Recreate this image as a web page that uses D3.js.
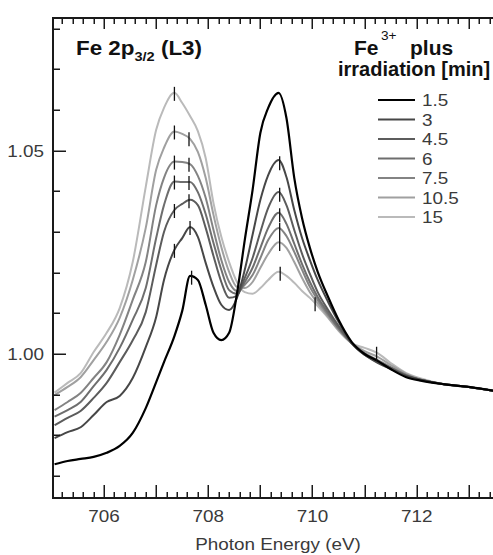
<!DOCTYPE html>
<html>
<head>
<meta charset="utf-8">
<script src="https://cdn.jsdelivr.net/npm/d3@7"></script>
<style>
  html, body { margin: 0; padding: 0; background: #fff; }
  svg { display: block; font-family: "Liberation Sans", Arial, sans-serif; }
</style>
</head>
<body>
<svg id="chart" width="493" height="555"></svg>
<script>
// ---------------- data ----------------
const energy = [705.05,705.3,705.55,705.8,706.05,706.3,706.55,706.8,707.0,707.15,
                707.35,707.5,707.65,707.8,707.95,708.1,708.25,708.4,708.55,708.7,
                708.85,709.0,709.15,709.35,709.5,709.65,709.8,709.95,710.1,710.3,
                710.5,710.75,711.0,711.25,711.5,711.8,712.1,712.5,713.0,713.5];

const seriesLabels = ["1.5", "3", "4.5", "6", "7.5", "10.5", "15"];

const s1_5 = [0.9729,0.9737,0.9742,0.9747,0.9757,0.9774,0.9806,0.9867,0.9931,0.9980,
              1.0044,1.0106,1.0192,1.0182,1.0121,1.0052,1.0034,1.0052,1.0148,1.0280,
              1.0403,1.0544,1.0605,1.0642,1.0580,1.0433,1.0334,1.0261,1.0202,1.0140,
              1.0084,1.0030,1.0000,0.9983,0.9963,0.9943,0.9934,0.9926,0.9919,0.9909];
const s3   = [0.9793,0.9808,0.9820,0.9850,0.9882,0.9897,0.9941,1.0017,1.0091,1.0182,
              1.0256,1.0285,1.0312,1.0288,1.0224,1.0165,1.0121,1.0108,1.0138,1.0207,
              1.0293,1.0379,1.0440,1.0477,1.0435,1.0354,1.0285,1.0231,1.0182,1.0128,
              1.0079,1.0027,0.9998,0.9978,0.9963,0.9946,0.9936,0.9926,0.9919,0.9909];
const s4_5 = [0.9825,0.9843,0.9860,0.9892,0.9929,0.9980,1.0034,1.0103,1.0219,1.0300,
              1.0354,1.0369,1.0379,1.0366,1.0310,1.0241,1.0177,1.0138,1.0143,1.0187,
              1.0236,1.0300,1.0359,1.0398,1.0366,1.0305,1.0246,1.0197,1.0152,1.0108,
              1.0069,1.0027,0.9998,0.9980,0.9966,0.9946,0.9936,0.9926,0.9919,0.9909];
const s6   = [0.9846,0.9862,0.9882,0.9921,0.9961,1.0015,1.0084,1.0162,1.0285,1.0366,
              1.0424,1.0423,1.0423,1.0398,1.0344,1.0273,1.0207,1.0157,1.0148,1.0177,
              1.0212,1.0261,1.0310,1.0347,1.0320,1.0271,1.0221,1.0177,1.0140,1.0101,
              1.0064,1.0027,1.0000,0.9983,0.9966,0.9948,0.9936,0.9926,0.9919,0.9909];
const s7_5 = [0.9862,0.9882,0.9904,0.9941,0.9980,1.0047,1.0133,1.0226,1.0366,1.0433,
              1.0473,1.0472,1.0467,1.0438,1.0384,1.0305,1.0231,1.0177,1.0155,1.0170,
              1.0194,1.0236,1.0280,1.0310,1.0290,1.0251,1.0207,1.0165,1.0133,1.0096,
              1.0062,1.0027,1.0002,0.9985,0.9968,0.9948,0.9936,0.9926,0.9919,0.9909];
const s10_5= [0.9899,0.9919,0.9943,0.9985,1.0030,1.0089,1.0182,1.0310,1.0453,1.0507,
              1.0547,1.0541,1.0529,1.0497,1.0433,1.0342,1.0263,1.0202,1.0165,1.0162,
              1.0177,1.0212,1.0246,1.0275,1.0261,1.0226,1.0187,1.0152,1.0125,1.0091,
              1.0059,1.0027,1.0007,0.9993,0.9973,0.9951,0.9936,0.9926,0.9919,0.9909];
const s15  = [0.9905,0.9929,0.9953,1.0005,1.0052,1.0113,1.0226,1.0411,1.0551,1.0605,
              1.0642,1.0617,1.0585,1.0548,1.0482,1.0371,1.0288,1.0226,1.0177,1.0152,
              1.0148,1.0162,1.0182,1.0202,1.0192,1.0175,1.0155,1.0138,1.0118,1.0089,
              1.0057,1.0027,1.0015,1.0002,0.9978,0.9953,0.9939,0.9926,0.9919,0.9909];

const seriesValues = [s1_5, s3, s4_5, s6, s7_5, s10_5, s15];

// peak markers: [series label, energy]
const markSeries = ["15","10.5","7.5","6","4.5","3",
                    "10.5","7.5","6","4.5","3","1.5",
                    "3","4.5","6","7.5","10.5","15",
                    "15","15"];
const markEnergy = [707.35,707.35,707.35,707.35,707.35,707.35,
                    707.63,707.63,707.63,707.63,707.65,707.68,
                    709.37,709.37,709.37,709.37,709.37,709.38,
                    710.05,711.23];

const xMinorTicks = [705.2,705.4,705.6,705.8,706.2,706.4,706.6,706.8,707.2,707.4,707.6,707.8,
                     708.2,708.4,708.6,708.8,709.2,709.4,709.6,709.8,710.2,710.4,710.6,710.8,
                     711.2,711.4,711.6,711.8,712.2,712.4,712.6,712.8,713.2,713.4];
const xMajorTicks = [706,707,708,709,710,711,712,713];
const xLabelTicks = [706,708,710,712];
const yMinorTicks = [0.97,0.98,0.99,1.01,1.02,1.03,1.04,1.06,1.07,1.08];
const yLabelTicks = [1.00,1.05];

// ---------------- layout ----------------
const svg = d3.select("#chart");
const L = 53, R = 493, T = 18, B = 498;
const xs = d3.scaleLinear().domain([705.02, 713.464]).range([L, R]);
const ys = d3.scaleLinear().domain([0.9646, 1.0826]).range([B, T]);

const colors = ["#000000","#474747","#5c5c5c","#6e6e6e","#838383","#a0a0a0","#bababa"];
const textCol = "#3a3a3a";

function label(txt, px, py, opts) {
  const o = Object.assign({anchor:"start", size:16, weight:"normal", sx:1.18, fill:textCol}, opts||{});
  return svg.append("text")
    .attr("transform", `translate(${px},${py}) scale(${o.sx},1)`)
    .attr("text-anchor", o.anchor)
    .attr("font-size", o.size)
    .attr("font-weight", o.weight)
    .attr("fill", o.fill)
    .text(txt);
}

svg.append("clipPath").attr("id","clip").append("rect")
  .attr("x", L).attr("y", T).attr("width", R - L).attr("height", B - T);

// ---------------- curves ----------------
const line = d3.line()
  .x((d, i) => xs(energy[i]))
  .y(d => ys(d))
  .curve(d3.curveMonotoneX);

const plot = svg.append("g").attr("clip-path", "url(#clip)");
for (let k = seriesValues.length - 1; k >= 0; k--) {
  plot.append("path")
    .datum(seriesValues[k])
    .attr("d", line)
    .attr("fill", "none")
    .attr("stroke", colors[k])
    .attr("stroke-width", k === 0 ? 2.2 : 2)
    .attr("stroke-linejoin", "round");
}

function valueAt(lbl, e) {
  const vals = seriesValues[seriesLabels.indexOf(lbl)];
  return d3.scaleLinear().domain(energy).range(vals)(e);
}
markSeries.forEach((s, i) => {
  const px = xs(markEnergy[i]);
  const py = ys(valueAt(s, markEnergy[i]));
  plot.append("line")
    .attr("x1", px).attr("x2", px)
    .attr("y1", py - 6).attr("y2", py + 8)
    .attr("stroke", "#111").attr("stroke-width", 1.3);
});

// ---------------- axes (drawn from the scales) ----------------
const axisCol = "#1a1a1a";
const axesG = svg.append("g");
function tick(x1, y1, x2, y2, w) {
  axesG.append("rect")
    .attr("x", Math.min(x1, x2)).attr("y", Math.min(y1, y2))
    .attr("width", Math.max(Math.abs(x2 - x1), w)).attr("height", Math.max(Math.abs(y2 - y1), w))
    .attr("fill", axisCol);
}
xMinorTicks.forEach(v => {
  const px = Math.round(xs(v)) - 0.5;
  tick(px, B - 6, px, B, 1.5);
  tick(px, T, px, T + 6, 1.5);
});
xMajorTicks.forEach(v => {
  const px = Math.round(xs(v)) - 0.5;
  tick(px, B - 13, px, B, 1.5);
  tick(px, T, px, T + 11, 1.5);
});
yMinorTicks.forEach(v => {
  const py = Math.round(ys(v)) - 0.5;
  tick(L, py, L + 7, py, 1.5);
});
yLabelTicks.forEach(v => {
  const py = Math.round(ys(v)) - 0.5;
  tick(L, py, L + 13, py, 1.5);
});
// frame
tick(L - 1, T - 1, L - 1, B + 1, 2);
tick(L - 1, T - 1, R, T - 1, 2);
tick(L - 1, B - 1, R, B - 1, 2);

// tick labels
xLabelTicks.forEach(v => label(String(v), xs(v), B + 24, {anchor:"middle"}));
yLabelTicks.forEach(v => label(v.toFixed(2), L - 9, ys(v) + 6, {anchor:"end"}));
label("Photon Energy (eV)", 278, B + 52, {anchor:"middle"});

// ---------------- title ----------------
const title = svg.append("text")
  .attr("transform", `translate(76,55) scale(1.12,1)`)
  .attr("font-size", 20).attr("font-weight", "bold").attr("fill", "#111");
title.append("tspan").text("Fe 2p");
title.append("tspan").attr("font-size", 13).attr("dy", 6).text("3/2");
title.append("tspan").attr("dy", -6).text(" (L3)");

// ---------------- legend ----------------
label("Fe", 354, 55, {size:20, weight:"bold", sx:1.05, fill:"#111"});
label("3+", 381, 40, {size:13, sx:1.05, fill:"#111"});
label("plus", 410, 55, {size:20, weight:"bold", sx:1.05, fill:"#111"});
label("irradiation [min]", 338, 76, {size:20, weight:"bold", sx:1.0, fill:"#111"});

const legendTop = 100, legendStep = 19.5;
seriesLabels.forEach((lbl, k) => {
  const ly = legendTop + k * legendStep;
  svg.append("line")
    .attr("x1", 378).attr("x2", 415).attr("y1", ly).attr("y2", ly)
    .attr("stroke", colors[k]).attr("stroke-width", 2);
  label(lbl, 422, ly + 6, {size:16});
});
</script>
</body>
</html>
